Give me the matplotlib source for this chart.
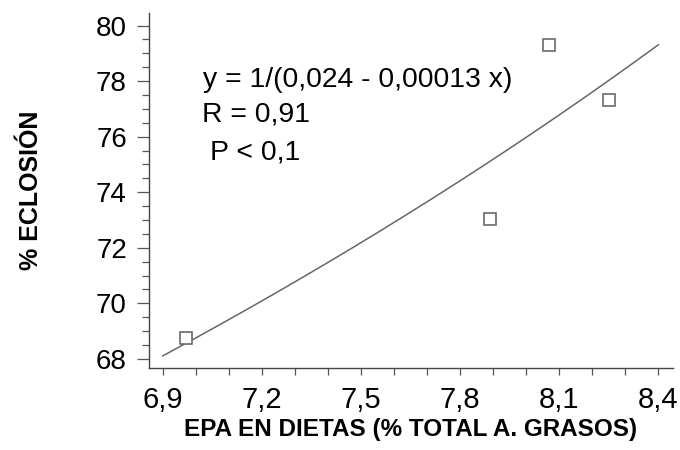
import matplotlib
matplotlib.use('Agg')
import matplotlib.pyplot as plt
from matplotlib.ticker import MultipleLocator, FixedLocator
import numpy as np

plt.rcParams['font.family'] = ['Liberation Sans', 'DejaVu Sans']

# EPA content of diets (% of total fatty acids) vs hatching rate
epa = [6.97, 7.89, 8.07, 8.25]
eclosion = [68.74, 73.02, 79.31, 77.31]

# reciprocal fit y = 1/(a - b x)
fit_a = 0.024218
fit_b = 0.001382

x_ticks = [6.9, 7.2, 7.5, 7.8, 8.1, 8.4]
x_tick_labels = ['6,9', '7,2', '7,5', '7,8', '8,1', '8,4']
y_ticks = [68, 70, 72, 74, 76, 78, 80]

fig = plt.figure(figsize=(6.8, 4.5), dpi=100)
ax = fig.add_axes([0.219, 0.182, 0.771, 0.789])

xfit = np.linspace(6.9, 8.4, 200)
yfit = 1.0 / (fit_a - fit_b * xfit)
ax.plot(xfit, yfit, color='#666666', lw=1.1)
ax.plot(epa, eclosion, ls='none', marker='s', ms=8, mfc='white',
        mec='#6a6a6a', mew=1.2)

ax.set_xlim(6.858, 8.445)
ax.set_ylim(67.67, 80.45)

ax.xaxis.set_major_locator(FixedLocator(x_ticks))
ax.set_xticklabels(x_tick_labels)
ax.xaxis.set_minor_locator(MultipleLocator(0.1))
ax.yaxis.set_major_locator(FixedLocator(y_ticks))
ax.yaxis.set_minor_locator(MultipleLocator(0.5))

for side in ['top', 'right']:
    ax.spines[side].set_visible(False)
for side in ['left', 'bottom']:
    ax.spines[side].set_color('#444444')
    ax.spines[side].set_linewidth(1.0)

ax.tick_params(axis='x', which='both', direction='out', length=5,
               width=0.9, color='#555555', labelsize=21, pad=8)
ax.tick_params(axis='y', which='major', direction='out', length=8.6,
               width=0.9, color='#555555', labelsize=20, pad=7.2)
ax.tick_params(axis='y', which='minor', direction='out', length=4.8,
               width=0.9, color='#555555')

ax.set_xlabel('EPA EN DIETAS (% TOTAL A. GRASOS)', fontsize=17.5,
              fontweight='bold', labelpad=3)
ax.set_ylabel('% ECLOSIÓN', fontsize=18, fontweight='bold', labelpad=38)

ax.text(0.103, 0.811, 'y = 1/(0,024 - 0,00013 x)', transform=ax.transAxes,
        fontsize=20.4, va='center', ha='left')
ax.text(0.101, 0.713, 'R = 0,91', transform=ax.transAxes,
        fontsize=20.4, va='center', ha='left')
ax.text(0.116, 0.608, 'P < 0,1', transform=ax.transAxes,
        fontsize=20.4, va='center', ha='left')

fig.savefig('out.png', dpi=100)
